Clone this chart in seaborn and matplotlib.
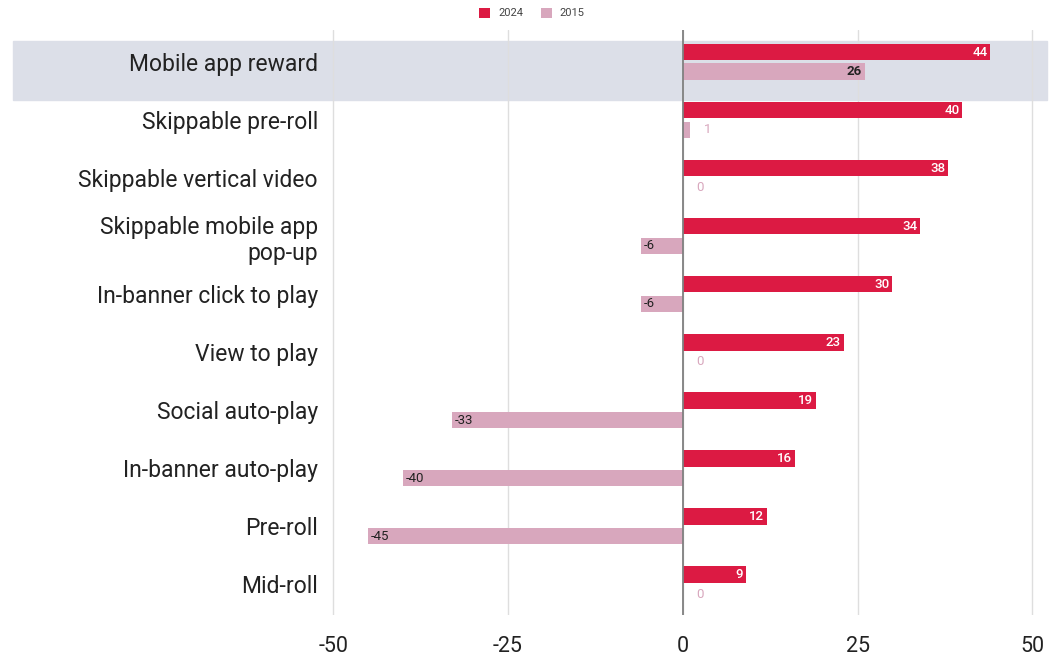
import matplotlib
matplotlib.use("Agg")
import matplotlib.pyplot as plt
import seaborn as sns
import pandas as pd
from matplotlib.patches import Rectangle, Patch
from matplotlib.transforms import blended_transform_factory

# Ad formats and their net scores in two survey years
categories = [
    "Mobile app reward",
    "Skippable pre-roll",
    "Skippable vertical video",
    "Skippable mobile app\npop-up",
    "In-banner click to play",
    "View to play",
    "Social auto-play",
    "In-banner auto-play",
    "Pre-roll",
    "Mid-roll",
]
values_2024 = [44, 40, 38, 34, 30, 23, 19, 16, 12, 9]
values_2015 = [26, 1, 0, -6, -6, 0, -33, -40, -45, 0]
series = ["2024", "2015"]
x_ticks = [-50, -25, 0, 25, 50]

RED = "#dc1a43"
PINK = "#d8a7bd"
BAND = "#dcdfe8"
TEXT = "#222222"

sns.set_theme(style="white")
plt.rcParams["font.family"] = ["Roboto", "DejaVu Sans"]
plt.rcParams["axes.unicode_minus"] = False

df = pd.DataFrame({
    "category": categories * 2,
    "value": values_2024 + values_2015,
    "year": [series[0]] * len(categories) + [series[1]] * len(categories),
})

W, H = 1057, 660
fig = plt.figure(figsize=(W / 100, H / 100), dpi=100)
ax = fig.add_axes([329 / W, 1 - 615 / H, (1047 - 329) / W, (615 - 30) / H])

sns.barplot(
    data=df, y="category", x="value", hue="year",
    order=categories, hue_order=series, palette=[RED, PINK],
    orient="h", width=0.68, gap=0.16, saturation=1,
    edgecolor="none", legend=False, ax=ax, zorder=3,
)

ax.set_xlim(-50.6, 52.1)
ax.set_ylim(9.53, -0.55)
ax.set_xticks(x_ticks)
ax.set_xlabel("")
ax.set_ylabel("")
for s in ax.spines.values():
    s.set_visible(False)

# gridlines and zero line
ax.set_axisbelow(True)
ax.xaxis.grid(True, color="#dedede", lw=1)
ax.axvline(0, color="#808080", lw=1.3, zorder=4)

ax.tick_params(axis="x", length=8, color="#d6d6d6", labelsize=15.5, pad=7,
               labelcolor=TEXT)
ax.tick_params(axis="y", length=0, pad=8, labelsize=16.5, labelcolor=TEXT)
for lab in ax.get_yticklabels():
    lab.set_horizontalalignment("right")
    lab.set_multialignment("right")

# highlighted first row
trans = blended_transform_factory(fig.transFigure, ax.transData)
ax.add_patch(Rectangle((13 / W, -0.36), (1047 - 13) / W, 1.02,
                       transform=trans, color=BAND, zorder=0.1, clip_on=False))

# value labels
c24, c15 = ax.containers[0], ax.containers[1]
for bar, v in zip(c24, values_2024):
    yc = bar.get_y() + bar.get_height() / 2
    ax.text(v - 0.4, yc, str(v), ha="right", va="center", color="white",
            fontsize=9.5, fontweight="medium", zorder=5)
for bar, v in zip(c15, values_2015):
    yc = bar.get_y() + bar.get_height() / 2
    if v >= 10:
        ax.text(v - 0.4, yc, str(v), ha="right", va="center", color=TEXT,
                fontsize=9.5, fontweight="bold", zorder=5)
    elif v >= 0:
        ax.text(v + 2.0, yc, str(v), ha="left", va="center", color=PINK,
                fontsize=9.5, zorder=5)
    else:
        ax.text(v + 0.4, yc, str(v), ha="left", va="center", color=TEXT,
                fontsize=9.5, zorder=5)

# legend
handles = [Patch(facecolor=RED, edgecolor="none", label=series[0]),
           Patch(facecolor=PINK, edgecolor="none", label=series[1])]
fig.legend(handles=handles, loc="center", bbox_to_anchor=(532 / W, 1 - 13 / H),
           ncol=2, frameon=False, fontsize=8, handlelength=1.0, handleheight=1.0,
           columnspacing=1.6, handletextpad=0.7, labelcolor="#444444")

fig.savefig("out.png", dpi=100)
